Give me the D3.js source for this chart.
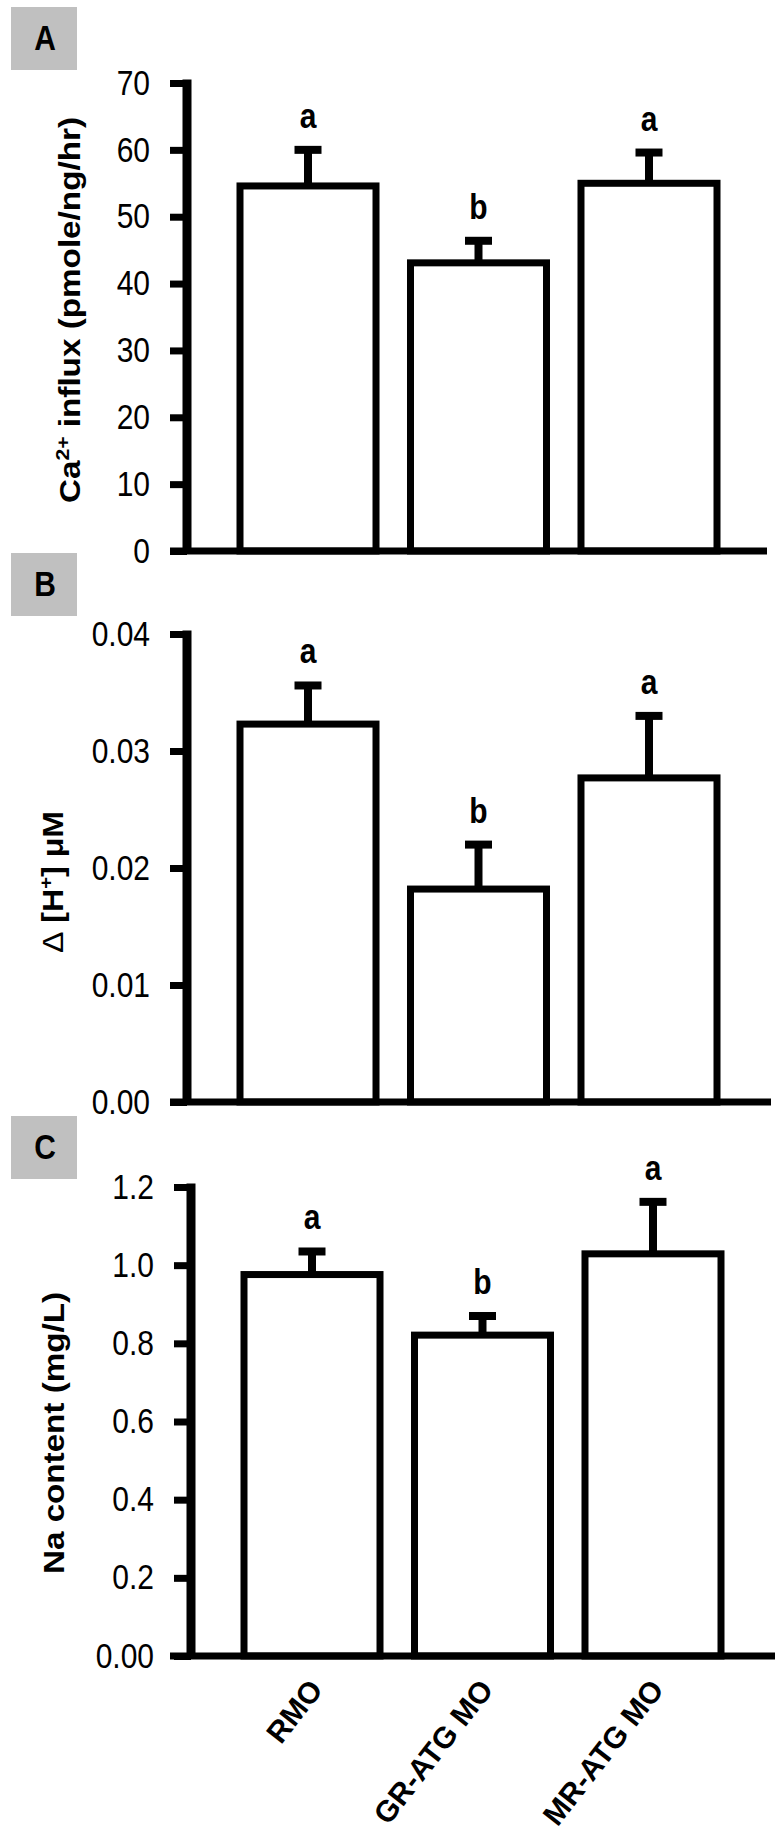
<!DOCTYPE html>
<html>
<head>
<meta charset="utf-8">
<script src="https://cdn.jsdelivr.net/npm/d3@7"></script>
<style>
  body { margin: 0; background: #fff; }
  svg { display: block; }
  text { font-family: "Liberation Sans", Arial, sans-serif; fill: #000; }
</style>
</head>
<body>
<div id="chart"></div>
<script>
// groups on the x axis
let categories = ['RMO', 'GR-ATG MO', 'MR-ATG MO'];

// panel A: Ca2+ influx
let caMeans = [54.6, 43.1, 55.0];
let caErrors = [5.4, 3.3, 4.6];
let caLetters = ['a', 'b', 'a'];
let caTicks = [0, 10, 20, 30, 40, 50, 60, 70];
let caTickLabels = ['0', '10', '20', '30', '40', '50', '60', '70'];

// panel B: delta [H+]
let hMeans = [0.0323, 0.0182, 0.0277];
let hErrors = [0.0033, 0.0038, 0.0053];
let hLetters = ['a', 'b', 'a'];
let hTicks = [0, 0.01, 0.02, 0.03, 0.04];
let hTickLabels = ['0.00', '0.01', '0.02', '0.03', '0.04'];

// panel C: Na content
let naMeans = [0.976, 0.821, 1.029];
let naErrors = [0.059, 0.049, 0.133];
let naLetters = ['a', 'b', 'a'];
let naTicks = [0, 0.2, 0.4, 0.6, 0.8, 1.0, 1.2];
let naTickLabels = ['0.00', '0.2', '0.4', '0.6', '0.8', '1.0', '1.2'];

let w = 780,
    h = 1848;

let S = 1.16; // the figure is a bit taller than wide, texts too

let svg = d3.select('#chart').append('svg')
    .attr('width', w)
    .attr('height', h);

let panels = [
    { tag: 'A', box: 7, means: caMeans, errs: caErrors, letters: caLetters,
      ticks: caTicks, labels: caTickLabels, max: 70, y0: 551, y1: 83,
      dx: 0, axisEnd: 767, titleX: 80, titleY: 310, titleLen: 386 },
    { tag: 'B', box: 553, means: hMeans, errs: hErrors, letters: hLetters,
      ticks: hTicks, labels: hTickLabels, max: 0.04, y0: 1102, y1: 634,
      dx: 0, axisEnd: 771, titleX: 63, titleY: 882, titleLen: 142 },
    { tag: 'C', box: 1116, means: naMeans, errs: naErrors, letters: naLetters,
      ticks: naTicks, labels: naTickLabels, max: 1.2, y0: 1656, y1: 1187,
      dx: 4, axisEnd: 775, titleX: 64, titleY: 1433, titleLen: 282 }
];

panels.forEach(function(p, i) {

    let g = svg.append('g');

    let x = d3.scaleBand()
        .domain(categories)
        .range([240 + p.dx, 717 + p.dx])
        .paddingInner(0.2023);

    let y = d3.scaleLinear()
        .domain([0, p.max])
        .range([p.y0, p.y1]);

    // grey letter box
    g.append('rect')
        .attr('x', 11)
        .attr('y', p.box)
        .attr('width', 66)
        .attr('height', 63)
        .attr('fill', '#c0c0c0');

    g.append('text')
        .attr('transform', `translate(45,${p.box + 43}) scale(1,${S})`)
        .attr('text-anchor', 'middle')
        .style('font-size', '30px')
        .style('font-weight', 'bold')
        .text(p.tag);

    // y axis
    let yAxis = d3.axisLeft(y)
        .tickValues(p.ticks)
        .tickFormat(function(d, k) { return p.labels[k]; })
        .tickSize(17)
        .tickSizeOuter(0)
        .tickPadding(20);

    let ax = g.append('g')
        .attr('transform', `translate(${187 + p.dx},0)`)
        .call(yAxis);

    ax.select('.domain')
        .attr('stroke', '#000')
        .attr('stroke-width', 9)
        .attr('d', `M0,${p.y1 - 3.5}V${p.y0}`);

    ax.selectAll('.tick line')
        .attr('stroke', '#000')
        .attr('stroke-width', 7);

    ax.selectAll('.tick text')
        .attr('fill', '#000')
        .attr('transform', `scale(1,${S})`)
        .style('font-size', '30px')
        .style('font-family', '"Liberation Sans", Arial, sans-serif');

    // bars
    g.selectAll('.bar')
        .data(p.means)
        .enter().append('rect')
        .attr('class', 'bar')
        .attr('x', function(d, k) { return x(categories[k]); })
        .attr('y', function(d) { return y(d); })
        .attr('width', x.bandwidth())
        .attr('height', function(d) { return p.y0 - y(d); })
        .attr('fill', '#fff')
        .attr('stroke', '#000')
        .attr('stroke-width', 7)
        .attr('stroke-linejoin', 'miter');

    // error bars, upper half only
    let cx = function(k) { return x(categories[k]) + x.bandwidth() / 2; };

    g.selectAll('.err')
        .data(p.means)
        .enter().append('line')
        .attr('class', 'err')
        .attr('x1', function(d, k) { return cx(k); })
        .attr('x2', function(d, k) { return cx(k); })
        .attr('y1', function(d) { return y(d); })
        .attr('y2', function(d, k) { return y(d + p.errs[k]); })
        .attr('stroke', '#000')
        .attr('stroke-width', 8);

    g.selectAll('.cap')
        .data(p.means)
        .enter().append('line')
        .attr('class', 'cap')
        .attr('x1', function(d, k) { return cx(k) - 13.5; })
        .attr('x2', function(d, k) { return cx(k) + 13.5; })
        .attr('y1', function(d, k) { return y(d + p.errs[k]); })
        .attr('y2', function(d, k) { return y(d + p.errs[k]); })
        .attr('stroke', '#000')
        .attr('stroke-width', 8);

    g.selectAll('.sig')
        .data(p.letters)
        .enter().append('text')
        .attr('class', 'sig')
        .attr('transform', function(d, k) {
            return `translate(${cx(k)},${y(p.means[k] + p.errs[k]) - 22}) scale(1,${S})`;
        })
        .attr('text-anchor', 'middle')
        .style('font-size', '30px')
        .style('font-weight', 'bold')
        .text(function(d) { return d; });

    // x axis line
    g.append('line')
        .attr('x1', 170)
        .attr('x2', p.axisEnd)
        .attr('y1', p.y0)
        .attr('y2', p.y0)
        .attr('stroke', '#000')
        .attr('stroke-width', 7);

    // y title
    let title = g.append('text')
        .attr('transform', `translate(${p.titleX},${p.titleY}) rotate(-90)`)
        .attr('text-anchor', 'middle')
        .attr('textLength', p.titleLen)
        .attr('lengthAdjust', 'spacingAndGlyphs')
        .style('font-size', '30px')
        .style('font-weight', 'bold');

    if (p.tag == 'A') {
        title.append('tspan').text('Ca');
        title.append('tspan').attr('dy', -11).style('font-size', '19px').text('2+');
        title.append('tspan').attr('dy', 11).text(' influx (pmole/ng/hr)');
    } else if (p.tag == 'B') {
        title.append('tspan').style('font-weight', 'normal').text('\u0394');
        title.append('tspan').text(' [H');
        title.append('tspan').attr('dy', -11).style('font-size', '19px').text('+');
        title.append('tspan').attr('dy', 11).text('] \u03bcM');
    } else {
        title.text('Na content (mg/L)');
    }

    // category labels only under the last panel
    if (i == panels.length - 1) {
        g.selectAll('.cat')
            .data(categories)
            .enter().append('text')
            .attr('class', 'cat')
            .attr('transform', function(d, k) {
                return `translate(${cx(k) + 12},${p.y0 + 34}) rotate(-52)`;
            })
            .attr('text-anchor', 'end')
            .style('font-size', '30px')
            .style('font-weight', 'bold')
            .text(function(d) { return d; });
    }
});
</script>
</body>
</html>
